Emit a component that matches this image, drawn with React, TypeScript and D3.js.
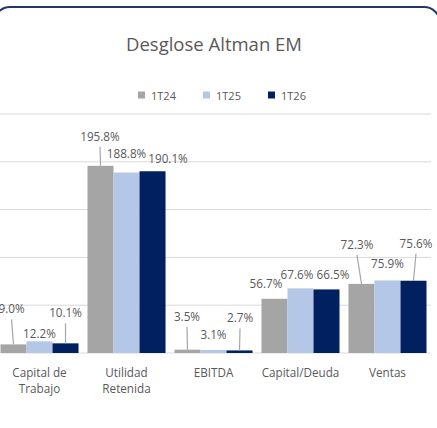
import * as d3 from 'd3';

const categories = ['Capital de Trabajo', 'Utilidad Retenida', 'EBITDA', 'Capital/Deuda', 'Ventas'];
const seriesNames = ['1T24', '1T25', '1T26'];
const values1T24 = [9.0, 195.8, 3.5, 56.7, 72.3];
const values1T25 = [12.2, 188.8, 3.1, 67.6, 75.9];
const values1T26 = [10.1, 190.1, 2.7, 66.5, 75.6];
const yTicks = [0, 50, 100, 150, 200, 250];

const colors = ['#A5A5A5', '#B4C7E7', '#002060'];
// manual label offsets (dx, dy from bar top center) + whether a leader line is drawn
const labelPos: [number, number, boolean][][] = [
  [[-2, -36, true], [0, -8, false], [0, -31, true]],
  [[-0.5, -30, true], [0, -19.5, false], [15.5, -13, false]],
  [[-0.5, -34, true], [0, -16, false], [0.5, -33, true]],
  [[-8.5, -16, false], [-3.5, -14, false], [6.5, -15, false]],
  [[-4.5, -40, true], [0, -17.5, false], [2.5, -38, true]],
];

const W = 437;
const H = 428;
const font = '"Open Sans", "Noto Sans", sans-serif';
const textColor = '#595959';

export default function App() {
  const series = [values1T24, values1T25, values1T26];
  const x = d3.scaleBand<string>().domain(categories).range([-4, 431]).paddingInner(0.103).paddingOuter(0.0517);
  const xs = d3.scaleBand<string>().domain(seriesNames).range([0, x.bandwidth()]);
  const y = d3.scaleLinear().domain([0, 250]).range([353, 114]);
  const fmt = (v: number) => v.toFixed(1) + '%';

  return (
    <svg width={W} height={H} style={{ position: 'absolute', left: 0, top: 0, background: '#fff' }}>
      <rect x={-6} y={7} width={446} height={460} rx={16} fill="#fff" stroke="#1F3864" strokeWidth={2} />
      <text x={214} y={43} textAnchor="middle" dominantBaseline="central" fontFamily={font} fontSize={18.5} fill={textColor}>
        Desglose Altman EM
      </text>
      {seriesNames.map((s, i) => (
        <g key={s} transform={`translate(${138 + i * 65},95)`}>
          <rect x={0} y={-3.5} width={7} height={7} fill={colors[i]} />
          <text x={13} y={0} dominantBaseline="central" fontFamily={font} fontSize={11} fill={textColor}>{s}</text>
        </g>
      ))}
      {yTicks.map((t) => (
        <line key={t} x1={0} x2={431} y1={y(t)} y2={y(t)} stroke="#D9D9D9" strokeWidth={1} />
      ))}
      {categories.map((c, ci) => (
        <g key={c}>
          {series.map((vals, si) => {
            const bx = (x(c) ?? 0) + (xs(seriesNames[si]) ?? 0);
            return (
              <rect key={si} x={bx} y={y(vals[ci])} width={xs.bandwidth()} height={y(0) - y(vals[ci])} fill={colors[si]} />
            );
          })}
        </g>
      ))}
      {categories.map((c, ci) =>
        series.map((vals, si) => {
          const cx = (x(c) ?? 0) + (xs(seriesNames[si]) ?? 0) + xs.bandwidth() / 2;
          const top = y(vals[ci]);
          const [dx, dy, leader] = labelPos[ci][si];
          const lx = cx + dx;
          const ly = top + dy;
          return (
            <g key={c + si}>
              {leader && <line x1={lx} y1={ly + 11} x2={cx} y2={top} stroke="#A6A6A6" strokeWidth={1.2} />}
              <text x={lx} y={ly} textAnchor="middle" dominantBaseline="central" fontFamily={font} fontSize={11.7} fill={textColor}>
                {fmt(vals[ci])}
              </text>
            </g>
          );
        })
      )}
      {categories.map((c) => {
        const cx = (x(c) ?? 0) + x.bandwidth() / 2;
        const words = c.split(' ');
        const lines = words.length > 1 ? [words.slice(0, -1).join(' '), words[words.length - 1]] : [c];
        return (
          <text key={c} x={cx} textAnchor="middle" fontFamily={font} fontSize={11.7} fill={textColor}>
            {lines.map((l, i) => (
              <tspan key={i} x={cx} y={372 + i * 16} dominantBaseline="central">{l}</tspan>
            ))}
          </text>
        );
      })}
    </svg>
  );
}
